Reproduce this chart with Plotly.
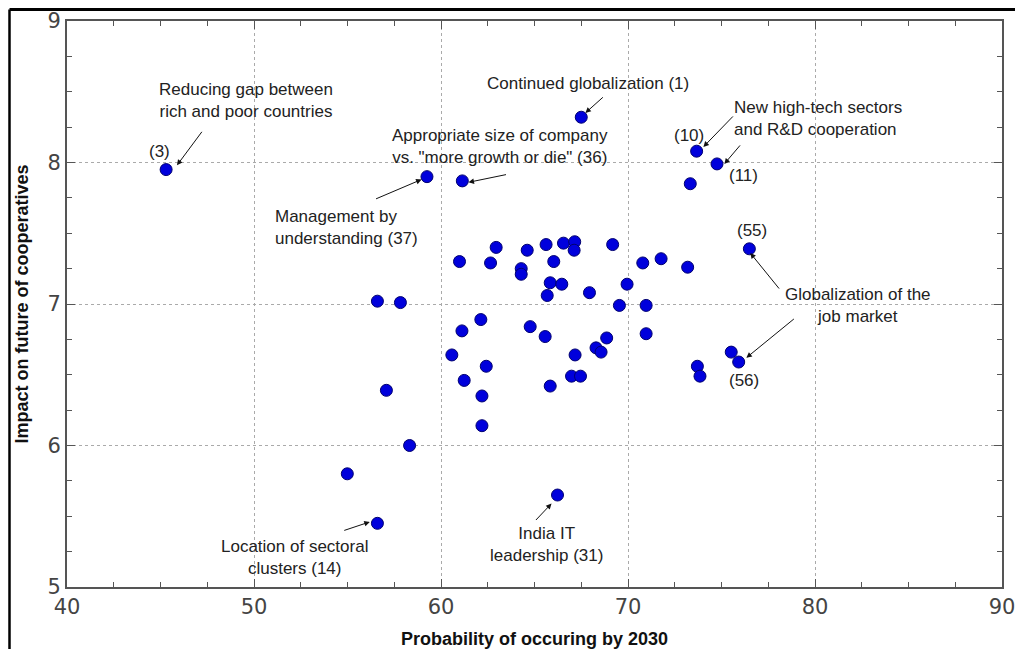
import plotly.graph_objects as go

# Probability of occurring by 2030 (x) and impact on future of cooperatives (y)
probability = [45.3, 67.5, 59.25, 61.14, 73.67, 74.76, 73.33, 76.49, 75.92, 75.52, 73.71, 73.85, 73.19, 71.77, 70.79, 70.97, 70.97,
               56.60, 57.83, 57.08, 58.32, 60.99, 62.95, 62.65, 64.61, 65.62, 66.55, 67.15, 67.12, 69.18, 64.29, 64.29, 66.03,
               65.84, 66.46, 65.68, 67.94, 69.95, 69.54,
               62.13, 61.12, 64.77, 65.57, 60.58, 62.42, 61.24, 62.19, 62.19, 67.17, 68.29, 68.56, 68.86, 66.98, 67.46, 65.84,
               54.99, 56.60, 66.23]
impact = [7.95, 8.32, 7.90, 7.87, 8.08, 7.99, 7.85, 7.39, 6.59, 6.66, 6.56, 6.49, 7.26, 7.32, 7.29, 6.99, 6.79,
          7.02, 7.01, 6.39, 6.00, 7.30, 7.40, 7.29, 7.38, 7.42, 7.43, 7.44, 7.38, 7.42, 7.25, 7.21, 7.30,
          7.15, 7.14, 7.06, 7.08, 7.14, 6.99,
          6.89, 6.81, 6.84, 6.77, 6.64, 6.56, 6.46, 6.35, 6.14, 6.64, 6.69, 6.66, 6.76, 6.49, 6.49, 6.42,
          5.80, 5.45, 5.65]

# Text labels (text, x, y, xanchor)
label_text = ["Reducing gap between<br>rich and poor countries", "(3)", "Continued globalization (1)",
              "Appropriate size of company<br>vs. \"more growth or die\" (36)", "Management by<br>understanding (37)",
              "(10)", "New high-tech sectors<br>and R&D cooperation", "(11)", "(55)",
              "Globalization of the<br>job market", "(56)", "Location of sectoral<br>clusters (14)",
              "India IT<br>leadership (31)"]
label_x = [49.56, 44.97, 67.88, 63.13, 51.0, 73.28, 75.58, 76.17, 76.65, 82.31, 76.22, 52.18, 65.64]
label_y = [8.44, 8.08, 8.56, 8.11, 7.54, 8.19, 8.31, 7.91, 7.52, 6.99, 6.46, 5.21, 5.30]
label_anchor = ["center", "center", "center", "center", "left", "center", "left", "center", "center",
                "center", "center", "center", "center"]

# Arrows (head x, head y, tail offset px)
arrow_x = [45.88, 67.72, 61.47, 58.96, 74.03, 75.15, 76.54, 76.33, 56.19, 65.91]
arrow_y = [7.98, 8.35, 7.86, 7.88, 8.11, 7.99, 7.36, 6.62, 5.46, 5.59]
arrow_ax = [26, 19, 39, -47, 31, 17, 30, 49, -27, -17]
arrow_ay = [-35, -17, -8, 20, -32, -20, 37, -40, 9, 18]

FONT = "Liberation Sans Narrow, Arial Narrow, Liberation Sans, Arial, sans-serif"

fig = go.Figure()
fig.add_trace(go.Scatter(
    x=probability, y=impact, mode="markers",
    marker=dict(size=12, color="#0000dc", line=dict(color="#000070", width=1)),
    showlegend=False, hoverinfo="x+y"))

annotations = []
for t, x, y, a in zip(label_text, label_x, label_y, label_anchor):
    annotations.append(dict(x=x, y=y, text=t, showarrow=False, xanchor=a, yanchor="middle",
                            align="left" if a == "left" else "center",
                            font=dict(family=FONT, size=17, color="#222222")))
for x, y, ax, ay in zip(arrow_x, arrow_y, arrow_ax, arrow_ay):
    annotations.append(dict(x=x, y=y, ax=ax, ay=ay, text="", showarrow=True,
                            arrowhead=2, arrowsize=1.1, arrowwidth=1, arrowcolor="#111111"))

axis_common = dict(
    showline=True, linecolor="#555555", linewidth=2, mirror="ticks",
    ticks="inside", ticklen=8, tickwidth=1, tickcolor="#555555",
    showgrid=True, gridcolor="#aaaaaa", griddash="dot", gridwidth=1,
    zeroline=False, automargin=False, ticklabeloverflow="allow",
    tickfont=dict(family="DejaVu Sans, Verdana, sans-serif", size=21, color="#444444"),
)

fig.update_xaxes(range=[40, 90], dtick=10, tick0=40,
                 minor=dict(dtick=2.5, ticks="inside", ticklen=5, tickcolor="#555555", showgrid=False),
                 title=dict(text="<b>Probability of occuring by 2030</b>", standoff=16,
                            font=dict(family=FONT, size=18, color="#111111")),
                 **axis_common)
fig.update_yaxes(range=[5, 9], dtick=1, tick0=5,
                 minor=dict(dtick=0.25, ticks="inside", ticklen=5, tickcolor="#555555", showgrid=False),
                 title=dict(text="<b>Impact on future of cooperatives</b>", standoff=14,
                            font=dict(family=FONT, size=18, color="#111111")),
                 **axis_common)

fig.update_layout(
    width=1015, height=641,
    margin=dict(l=59, r=21, t=13, b=62),
    plot_bgcolor="white", paper_bgcolor="white",
    annotations=annotations,
    shapes=[
        dict(type="line", xref="paper", yref="paper", x0=-0.0615, x1=1.03, y0=1.0203, y1=1.0203,
             line=dict(color="black", width=3)),
        dict(type="line", xref="paper", yref="paper", x0=-0.0615, x1=-0.0615, y0=1.0203, y1=-0.2,
             line=dict(color="black", width=2.5)),
    ],
)

fig.write_html("out.html")
